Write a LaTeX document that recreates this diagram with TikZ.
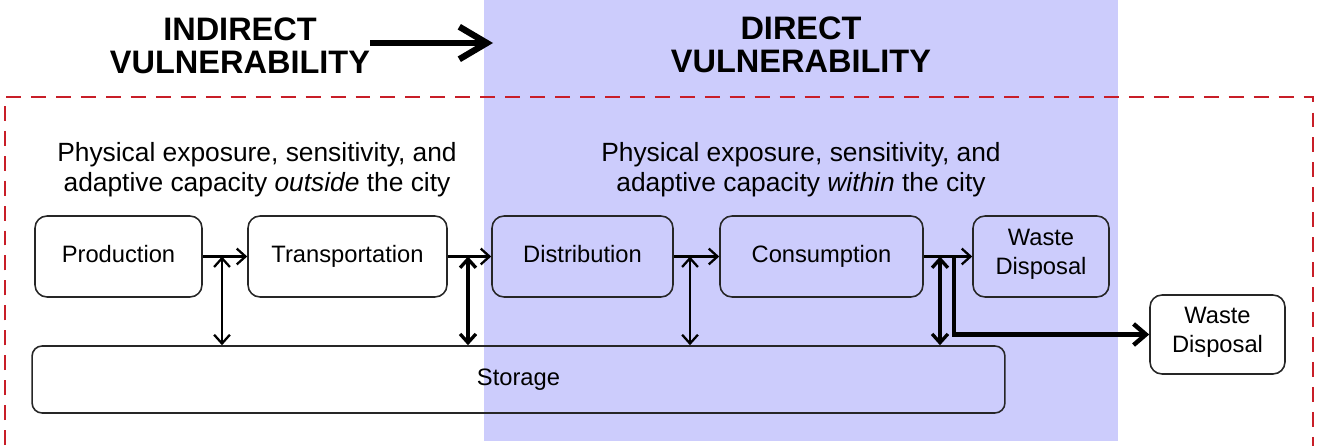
\documentclass[tikz,border=0pt]{standalone}
\usepackage{fontspec}
\setmainfont{Liberation Sans}
\usepackage{tikz}
\usetikzlibrary{arrows.meta,positioning,calc}
\definecolor{directblue}{RGB}{204,204,252}
\definecolor{borderred}{RGB}{200,30,40}

\begin{document}
\begin{tikzpicture}[
    x=0.02cm, y=-0.02cm,
    stage/.style={rectangle, rounded corners=0.24cm, draw=black!85, line width=0.9pt, minimum height=1.62cm, align=center, font=\fontsize{13.5}{16.5}\selectfont, inner sep=0pt, execute at begin node=\strut},
    twoline/.style={execute at begin node={}},
    heading/.style={align=center, inner sep=0pt, font=\fontsize{18.5}{18.5}\selectfont\bfseries},
    subtitle/.style={align=center, inner sep=0pt, font=\fontsize{15}{17}\selectfont},
    flow/.style={-{Straight Barb[length=5pt,width=9pt]}, line width=1.3pt},
    link/.style={{Straight Barb[length=5pt,width=9pt]}-{Straight Barb[length=5pt,width=9pt]}, line width=1.3pt},
    heavylink/.style={link, line width=1.9pt},
    spill/.style={-{Straight Barb[length=7pt,width=12pt]}, line width=2.5pt},
    bigarrow/.style={-{Straight Barb[length=0.55cm,width=0.65cm]}, line width=3.6pt}
]
\useasboundingbox (0,0) rectangle (1326,446);

% Direct zone and city border
\fill[directblue] (484,0) rectangle (1118,441);
\draw[borderred, line width=1.6pt, dash pattern=on 8.5pt off 5.7pt] (5,470) |- (1313,97) -- (1313,470);

% Headings
\node[heading] (indirect) at (240,46) {INDIRECT\\VULNERABILITY};
\node[heading] (direct) at (801,45) {DIRECT\\VULNERABILITY};
\coordinate (tip) at (493,43);
\draw[bigarrow] (indirect.east |- tip) -- (tip);

\node[subtitle] (outside) at (257,170) {Physical exposure, sensitivity, and\\adaptive capacity \textit{outside} the city};
\node[subtitle] (within) at (801,170) {Physical exposure, sensitivity, and\\adaptive capacity \textit{within} the city};

% Chain
\node[stage, minimum width=3.34cm] (production) at (118.5,256.5) {Production};
\node[stage, minimum width=3.98cm] (transportation) at (347.5,256.5) {Transportation};
\node[stage, minimum width=3.62cm] (distribution) at (582.5,256.5) {Distribution};
\node[stage, minimum width=4.06cm] (consumption) at (821.5,256.5) {Consumption};
\node[stage, twoline, minimum width=2.72cm] (waste) at (1041,256.5) {Waste\\Disposal};
\node[stage, twoline, minimum width=2.7cm, minimum height=1.58cm] (wasteout) at (1217.5,334.5) {Waste\\Disposal};
\node[stage, minimum width=19.46cm, minimum height=1.34cm, rounded corners=0.2cm] (storage) at (518.5,379.5) {Storage};

% Arrows - chain
\draw[flow] (production) -- (transportation);
\draw[flow] (transportation) -- (distribution);
\draw[flow] (distribution) -- (consumption);
\draw[flow] (consumption) -- (waste);

% Arrows - storage
\coordinate (j1) at (222,256.5);
\coordinate (j2) at (468,256.5);
\coordinate (j3) at (690,256.5);
\coordinate (j4) at (940,256.5);
\coordinate (j5) at (954,256.5);
\draw[link] (j1) -- (j1 |- storage.north);
\draw[heavylink] (j2) -- (j2 |- storage.north);
\draw[link] (j3) -- (j3 |- storage.north);
\draw[heavylink] (j4) -- (j4 |- storage.north);

% Arrows - waste leaving the city
\draw[spill] (j5) |- (wasteout.west);

\end{tikzpicture}
\end{document}
